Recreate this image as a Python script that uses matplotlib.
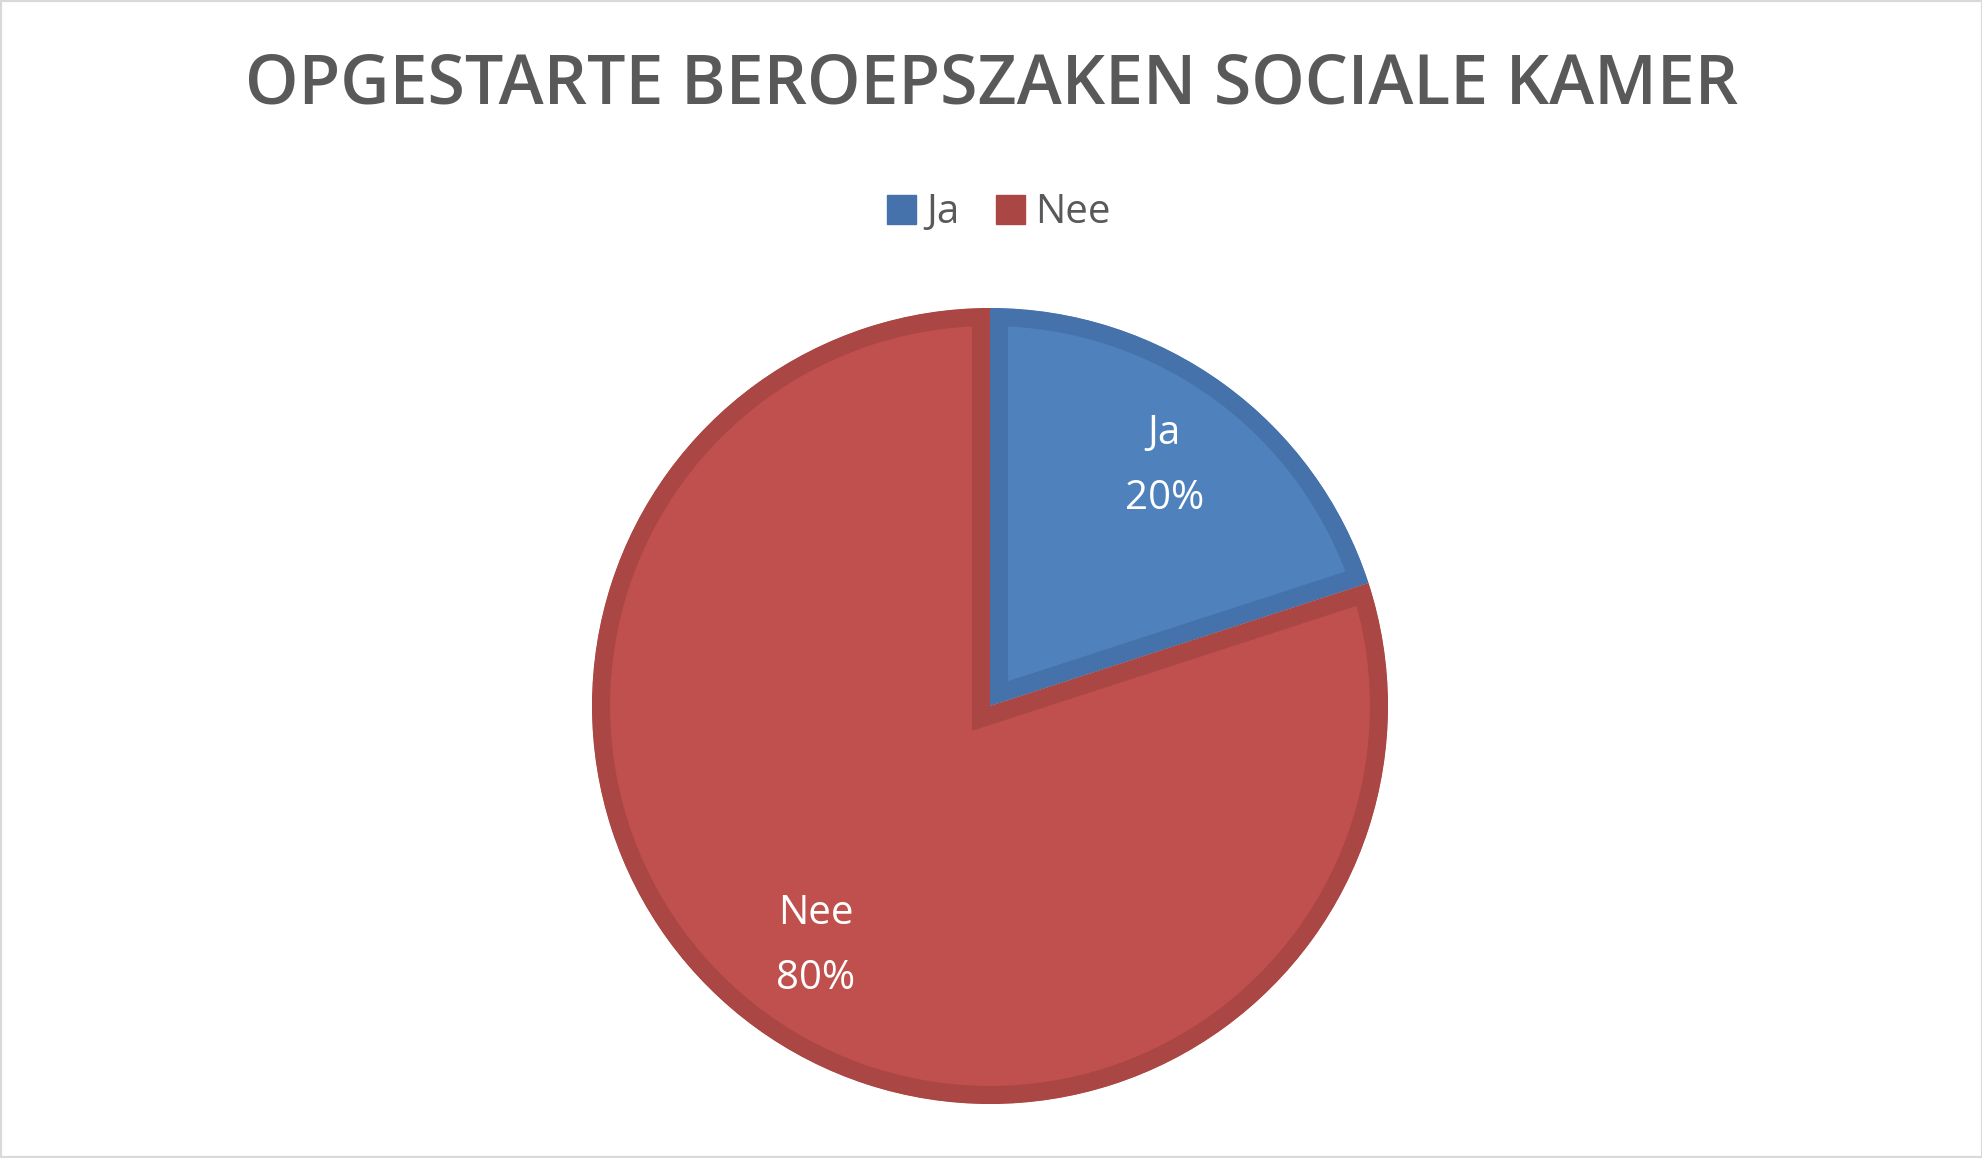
import matplotlib
matplotlib.use("Agg")
import matplotlib.pyplot as plt
from matplotlib.patches import Patch, Rectangle

# data
labels = ["Ja", "Nee"]
values = [20, 80]
title = "OPGESTARTE BEROEPSZAKEN SOCIALE KAMER"

fill_colors = ["#4F81BD", "#C0504D"]
edge_colors = ["#4672AB", "#AA4643"]
text_grey = "#595959"

plt.rcParams["font.family"] = ["Open Sans", "DejaVu Sans"]

W, H, DPI = 1983, 1158, 100
fig = plt.figure(figsize=(W / DPI, H / DPI), dpi=DPI)
fig.patch.set_facecolor("white")

# pie centre (990, 706) px from top-left, radius 398 px
cx, cy, r = 990, 706, 398
ax = fig.add_axes([(cx - r) / W, (H - cy - r) / H, 2 * r / W, 2 * r / H])

def fmt(pct):
    i = 0 if abs(pct - values[0] / sum(values) * 100) < 0.5 else 1
    return "%s\n%d%%" % (labels[i], round(pct))

wedges, texts = ax.pie(values, startangle=90, counterclock=False,
                       colors=fill_colors, radius=1,
                       autopct=fmt, pctdistance=0.745,
                       textprops=dict(color="white", fontsize=29,
                                      linespacing=1.8))[:2]
# inner stroke: draw a double-width edge and clip it to the wedge itself
for w, ec in zip(wedges, edge_colors):
    w.set_edgecolor(ec)
    w.set_linewidth(26)
    w.set_joinstyle("miter")
    w.set_clip_path(w)
    w.set_clip_on(True)
ax.set_xlim(-1, 1)
ax.set_ylim(-1, 1)
ax.set_aspect("equal")
ax.axis("off")

fig.text(992 / W, 1 - 86 / H, title, ha="center", va="center",
         fontsize=49, fontweight="semibold", color=text_grey)

handles = [Patch(facecolor=c, edgecolor=c) for c in edge_colors]
leg = fig.legend(handles, labels, loc="center", bbox_to_anchor=(999 / W, 1 - 213 / H),
                 ncol=2, frameon=False, fontsize=29, handlelength=0.72,
                 handleheight=0.72, handletextpad=0.25, columnspacing=0.9)
for t in leg.get_texts():
    t.set_color(text_grey)

fig.add_artist(Rectangle((0, 0), 1, 1, transform=fig.transFigure, fill=False,
                         edgecolor="#D9D9D9", linewidth=3))

fig.savefig("out.png", dpi=DPI)
